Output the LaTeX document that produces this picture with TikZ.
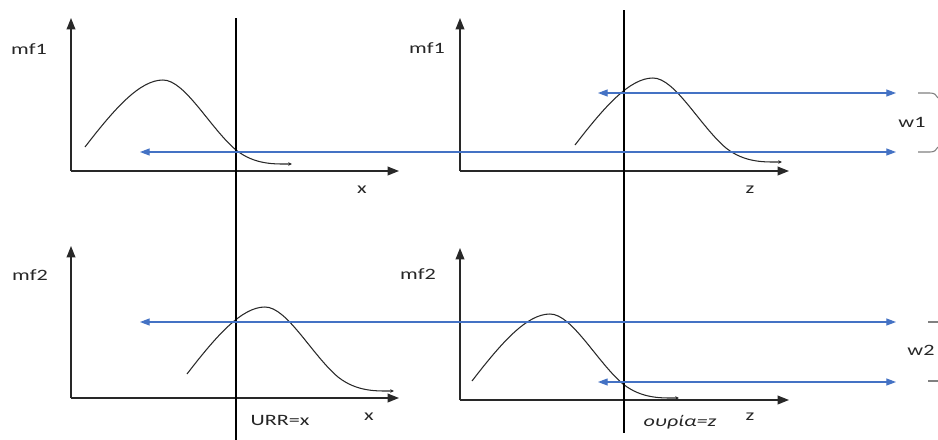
\documentclass[tikz,border=0pt]{standalone}
\usepackage{fontspec}
\setmainfont{Carlito}
\usetikzlibrary{arrows.meta}
\definecolor{offblue}{RGB}{68,114,196}
\definecolor{axisgray}{RGB}{40,40,40}
\tikzset{
  axis/.style={draw=axisgray, line width=0.75pt, -{Triangle[length=6.5pt,width=5pt]}},
  vline/.style={draw=black, line width=0.75pt},
  bell/.style={draw=axisgray, line width=0.6pt, -{Stealth[length=2.2pt,width=2pt]}},
  bluearr/.style={draw=offblue, line width=0.6pt, {Triangle[length=5.5pt,width=4pt]}-{Triangle[length=5.5pt,width=4pt]}},
  brace/.style={draw=gray, line width=0.6pt},
  lbl/.style={font=\fontsize{9}{10}\selectfont, text=black!85, inner sep=0pt, xscale=1.4, transform shape},
}
\newcommand{\bellpath}{(85,147) .. controls (115,108) and (140,80) .. (163,80) .. controls (185,80) and (210,128) .. (236,150) .. controls (255,165) and (275,164) .. (292,164)}
\begin{document}
\begin{tikzpicture}[x=0.02cm, y=-0.02cm]
\useasboundingbox (0,0) rectangle (938,440);
% axes coordinates
\coordinate (o1) at (71,171); \coordinate (y1) at (71,18); \coordinate (x1) at (399,171);
\coordinate (o2) at (460,171); \coordinate (y2) at (460,18); \coordinate (x2) at (789,171);
\coordinate (o3) at (71,398); \coordinate (y3) at (71,246); \coordinate (x3) at (399,398);
\coordinate (o4) at (460,400); \coordinate (y4) at (460,248); \coordinate (x4) at (789,400);
% vertical lines
\coordinate (v1t) at (236,18); \coordinate (v1b) at (236,440);
\coordinate (v2t) at (624,10); \coordinate (v2b) at (624,433);
% blue arrow ends
\coordinate (b1l) at (140,152); \coordinate (b1r) at (896,152);
\coordinate (b2l) at (598,93);  \coordinate (b2r) at (896,93);
\coordinate (b3l) at (140,322); \coordinate (b3r) at (896,322);
\coordinate (b4l) at (598,382); \coordinate (b4r) at (896,382);

% axes
\draw[axis] (o1) -- (y1); \draw[axis] (o1) -- (x1);
\draw[axis] (o2) -- (y2); \draw[axis] (o2) -- (x2);
\draw[axis] (o3) -- (y3); \draw[axis] (o3) -- (x3);
\draw[axis] (o4) -- (y4); \draw[axis] (o4) -- (x4);

% bell curves
\draw[bell] \bellpath;
\draw[bell, shift={(490,-2)}] \bellpath;
\draw[bell, shift={(102,227)}] \bellpath;
\draw[bell, shift={(387,234)}] \bellpath;

% vertical lines
\draw[vline] (v1t) -- (v1b);
\draw[vline] (v2t) -- (v2b);

% blue arrows
\draw[bluearr] (b1l) -- (b1r);
\draw[bluearr] (b2l) -- (b2r);
\draw[bluearr] (b3l) -- (b3r);
\draw[bluearr] (b4l) -- (b4r);

% right brace marks
\coordinate (r1a) at (918,93); \coordinate (r1b) at (938,98);
\coordinate (r2a) at (918,152); \coordinate (r2b) at (938,147);
\coordinate (r3a) at (928,322); \coordinate (r3b) at (938,322);
\coordinate (r4a) at (928,381); \coordinate (r4b) at (938,381);
\draw[brace] (r1a) -- ++(12,0) .. controls +(5,0) and +(-2,-3) .. (r1b);
\draw[brace] (r2a) -- ++(12,0) .. controls +(5,0) and +(-2,3) .. (r2b);
\draw[brace] (r3a) -- (r3b);
\draw[brace] (r4a) -- (r4b);

% labels
\node[lbl] (mf1a) at (29,49) {mf1};
\node[lbl] (mf1b) at (427,48) {mf1};
\node[lbl] (mf2a) at (30,275) {mf2};
\node[lbl] (mf2b) at (418,274) {mf2};
\node[lbl] (lx1) at (362,190) {x};
\node[lbl] (lz1) at (750,190) {z};
\node[lbl] (lx2) at (369,417) {x};
\node[lbl] (lz2) at (750,417) {z};
\node[lbl] (urr) at (280,420) {URR=x};
\node[lbl] (our) at (680,422) {\itshape ουρία=z};
\node[lbl] (w1) at (912,122) {w1};
\node[lbl] (w2) at (921,350) {w2};
\end{tikzpicture}
\end{document}
